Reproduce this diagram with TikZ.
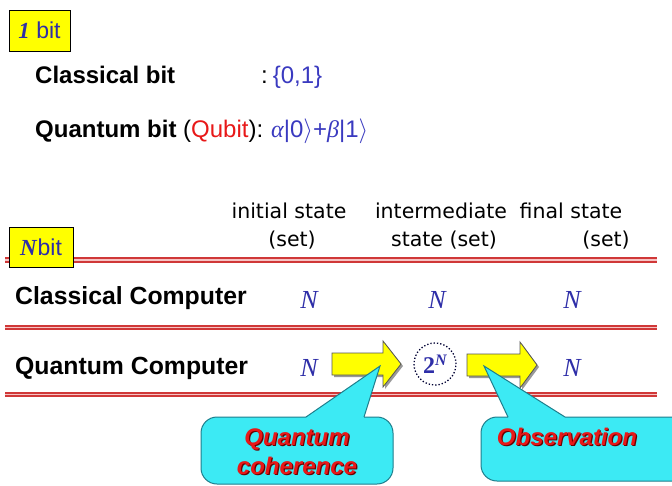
\documentclass[tikz,border=0pt]{standalone}
\usepackage{fontspec}
\setmainfont{Liberation Sans}
\newfontfamily\serifr{Liberation Serif}
\newfontfamily\hdrfont{DejaVu Sans}
\definecolor{qyellow}{HTML}{FFFF00}
\definecolor{nblue}{HTML}{2E2EA8}
\definecolor{sblue}{HTML}{3A3AC0}
\definecolor{qred}{HTML}{E81818}
\definecolor{qshadow}{HTML}{6A0000}
\definecolor{lred}{HTML}{D03838}
\definecolor{lpink}{HTML}{F6C4C4}
\definecolor{cfill}{HTML}{3CEAF4}
\definecolor{cborder}{HTML}{1E7E8C}
\definecolor{aborder}{HTML}{555555}
\begin{document}
\begin{tikzpicture}[x=1pt,y=-1pt,
  ybox/.style={draw=black, line width=0.9pt, fill=qyellow, inner sep=0pt, text=nblue},
  lbl/.style={anchor=base west, inner sep=0pt, font=\fontsize{24}{28}\selectfont\bfseries},
  biglbl/.style={anchor=base west, inner sep=0pt, font=\fontsize{24.8}{28}\selectfont\bfseries},
  plain/.style={anchor=base west, inner sep=0pt, font=\fontsize{24}{28}\selectfont},
  hdr/.style={anchor=base, inner sep=0pt, font=\hdrfont\fontsize{20.5}{23}\selectfont},
  nn/.style={anchor=base, inner sep=0pt, text=nblue, font=\serifr\itshape\fontsize{26}{28}\selectfont},
  sepline/.style={draw=lred, line width=1.9pt, double=lpink, double distance=1.3pt},
  yarrow/.style={draw=aborder, line width=0.8pt, fill=qyellow, line join=miter},
  ashadow/.style={fill=black!40},
  callout/.style={fill=cfill, draw=none},
  cline/.style={draw=cborder, line width=1pt},
  ctext/.style={anchor=base, inner sep=0pt, text=qred, font=\fontsize{24}{28}\selectfont\bfseries\itshape},
  cshadow/.style={anchor=base, inner sep=0pt, text=qshadow, font=\fontsize{24}{28}\selectfont\bfseries\itshape}
]
\useasboundingbox (0,0) rectangle (672,485);
\clip (0,0) rectangle (672,485);
\fill[white] (0,0) rectangle (672,485);

% ---- 1 bit section
\node[ybox, minimum width=61, minimum height=41, font=\fontsize{23}{26}\selectfont] (onebit) at (39.5,30.5)
  {{\serifr\bfseries\itshape 1} bit};
\node[lbl] (clbit) at (35,83) {Classical bit};
\node[plain] (clcolon) at (261,83) {:\hspace{5pt}\textcolor{sblue}{\{0,1\}}};
\node[plain] (qubit) at (35,137)
  {\textbf{Quantum bit} (\textcolor{qred}{Qubit}):\hspace{8pt}\textcolor{sblue}{{\serifr\itshape α}|0$\rangle$+{\serifr\itshape β}|1$\rangle$}};

% ---- header
\node[hdr] (h1a) at (289,218) {initial state};
\node[hdr] (h1b) at (292,246) {(set)};
\node[hdr] (h2a) at (441,218) {intermediate};
\node[hdr] (h2b) at (444,246) {state (set)};
\node[hdr] (h3a) at (571,218) {final state};
\node[hdr] (h3b) at (606,246) {(set)};

% ---- separator lines
\coordinate (l1a) at (5,260);   \coordinate (l1b) at (657,260);
\coordinate (l2a) at (5,327.5); \coordinate (l2b) at (657,327.5);
\coordinate (l3a) at (5,394.5); \coordinate (l3b) at (657,394.5);
\draw[sepline] (l1a) -- (l1b);
\draw[sepline] (l2a) -- (l2b);
\draw[sepline] (l3a) -- (l3b);

\node[ybox, minimum width=64, minimum height=40, font=\fontsize{23}{26}\selectfont] (nbit) at (41,247)
  {{\serifr\bfseries\itshape N}\hspace{1pt}bit};

% ---- rows
\node[biglbl] (cc) at (15,304) {Classical Computer};
\node[biglbl] (qc) at (15,374) {Quantum Computer};
\node[nn] (cn1) at (309,308) {N};
\node[nn] (cn2) at (437,308) {N};
\node[nn] (cn3) at (572,308) {N};
\node[nn] (qn1) at (309,376) {N};
\node[nn] (qn3) at (572,376) {N};
\node[circle, draw=black!80!blue, dotted, line width=1.3pt, minimum size=42, inner sep=0pt,
      text=nblue, font=\serifr\bfseries\fontsize{24}{26}\selectfont] (two) at (435,364)
  {2\raisebox{8pt}{\fontsize{16}{18}\selectfont\itshape N}};

% ---- yellow block arrows
\fill[ashadow] (334,355) -- (385,355) -- (385,343) -- (403,366) -- (385,389) -- (385,377) -- (334,377) -- cycle;
\draw[yarrow] (332,353) -- (383,353) -- (383,341) -- (401,364) -- (383,387) -- (383,375) -- (332,375) -- cycle;
\fill[ashadow] (469,356) -- (522,356) -- (522,344) -- (539,367) -- (522,390) -- (522,378) -- (469,378) -- cycle;
\draw[yarrow] (467,354) -- (520,354) -- (520,342) -- (537,365) -- (520,388) -- (520,376) -- (467,376) -- cycle;

% ---- callout 1
\coordinate (t1) at (380,366);
\coordinate (b1l) at (306,417);
\coordinate (b1r) at (364,417);
\fill[callout, rounded corners=16] (201,417) rectangle (393,484);
\fill[callout] (b1l) -- (t1) -- (b1r) -- cycle;
\draw[cline, rounded corners=16] (b1r) -- (393,417) -- (393,484) -- (201,484) -- (201,417) -- (b1l);
\draw[cline, line join=miter] (b1l) -- (t1) -- (b1r);
\node[cshadow] at (298.2,446.2) {Quantum};
\node[ctext] (qcoh1) at (297,445) {Quantum};
\node[cshadow] at (298.2,475.2) {coherence};
\node[ctext] (qcoh2) at (297,474) {coherence};

% ---- callout 2
\coordinate (t2) at (484,366);
\coordinate (b2l) at (508,417);
\coordinate (b2r) at (565,417);
\fill[callout, rounded corners=16] (481,417) rectangle (700,481);
\fill[callout] (b2l) -- (t2) -- (b2r) -- cycle;
\draw[cline, rounded corners=16] (b2r) -- (700,417) -- (700,481) -- (481,481) -- (481,417) -- (b2l);
\draw[cline, line join=miter] (b2l) -- (t2) -- (b2r);
\node[cshadow] at (568.2,446.2) {Observation};
\node[ctext] (obs) at (567,445) {Observation};
\end{tikzpicture}
\end{document}
